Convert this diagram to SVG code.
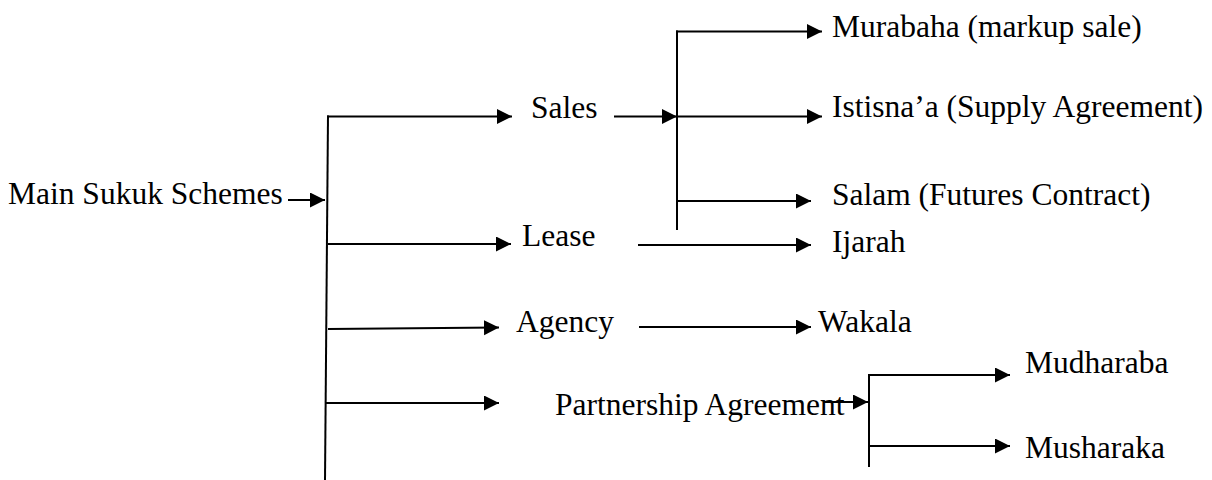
<svg xmlns="http://www.w3.org/2000/svg" width="1212" height="480" viewBox="0 0 1212 480">
  <style>
    text { font-family: "Liberation Serif", "Times New Roman", serif; font-size: 31.5px; fill: #000; }
    .ln { stroke: #000; stroke-width: 2; fill: none; }
    .ar { stroke: #000; stroke-width: 2; fill: none; marker-end: url(#ah); }
  </style>
  <defs>
    <marker id="ah" markerUnits="userSpaceOnUse" markerWidth="16" markerHeight="16" refX="15" refY="7.5" orient="auto">
      <path d="M0,0 L15,7.5 L0,15 Z" fill="#000"/>
    </marker>
  </defs>
  <rect width="1212" height="480" fill="#fff"/>

  <g id="connectors">
    <line class="ar" x1="288" y1="200" x2="325" y2="200"/>
    <line class="ln" x1="328" y1="115.5" x2="325" y2="480"/>
    <line class="ar" x1="327" y1="116.5" x2="512" y2="116.5"/>
    <line class="ar" x1="328" y1="244" x2="511" y2="244"/>
    <line class="ar" x1="328" y1="329" x2="499" y2="327.5"/>
    <line class="ar" x1="325" y1="403" x2="499" y2="403"/>

    <line class="ar" x1="614" y1="116.5" x2="677" y2="116.5"/>
    <line class="ln" x1="677" y1="30.5" x2="677" y2="230"/>
    <line class="ar" x1="676" y1="31.5" x2="822" y2="31.5"/>
    <line class="ar" x1="677" y1="116.5" x2="822" y2="116.5"/>
    <line class="ar" x1="677" y1="201" x2="811" y2="201"/>

    <line class="ar" x1="638" y1="245" x2="811" y2="245"/>
    <line class="ar" x1="639" y1="327" x2="811" y2="327"/>

    <line class="ar" x1="823" y1="402" x2="868" y2="402"/>
    <line class="ln" x1="869" y1="374" x2="869" y2="467"/>
    <line class="ar" x1="868" y1="375" x2="1010" y2="375"/>
    <line class="ar" x1="869" y1="446" x2="1010" y2="446"/>
  </g>

  <g id="main"><text x="8" y="204">Main Sukuk Schemes</text></g>
  <g id="sales"><text x="531" y="118">Sales</text></g>
  <g id="lease"><text x="522" y="246">Lease</text></g>
  <g id="agency"><text x="516" y="332">Agency</text></g>
  <g id="partnership"><text x="555" y="415">Partnership Agreement</text></g>
  <g id="murabaha"><text x="832" y="37">Murabaha (markup sale)</text></g>
  <g id="istisnaa"><text x="832" y="117">Istisna’a (Supply Agreement)</text></g>
  <g id="salam"><text x="832" y="205">Salam (Futures Contract)</text></g>
  <g id="ijarah"><text x="832" y="252">Ijarah</text></g>
  <g id="wakala"><text x="818" y="332">Wakala</text></g>
  <g id="mudharaba"><text x="1025" y="373">Mudharaba</text></g>
  <g id="musharaka"><text x="1025" y="458">Musharaka</text></g>
</svg>
